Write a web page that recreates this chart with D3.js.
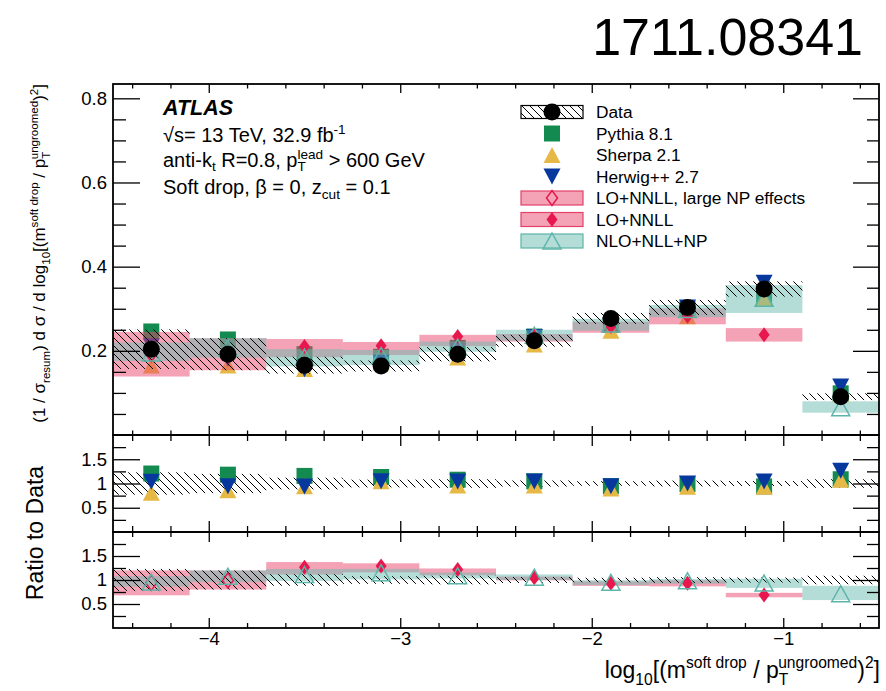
<!DOCTYPE html>
<html><head><meta charset="utf-8">
<script src="https://cdn.jsdelivr.net/npm/d3@7"></script>
<style>
body{margin:0;background:#fff}
text{font-family:"Liberation Sans",Arial,Helvetica,sans-serif;fill:#000}
</style>
</head><body><svg id="c" width="886" height="691"></svg>
<script>
// ---------------- DATA ----------------
const binEdges = [-4.5,-4.1,-3.7,-3.3,-2.9,-2.5,-2.1,-1.7,-1.3,-0.9,-0.5];
const dataVal  = [0.204,0.192,0.166,0.164,0.192,0.224,0.277,0.303,0.347,0.091];
const dataErr  = [0.047,0.038,0.020,0.013,0.017,0.014,0.013,0.018,0.018,0.008];
const pythia   = [0.246,0.227,0.192,0.186,0.207,0.234,0.262,0.300,0.326,0.099];
const sherpa   = [0.165,0.165,0.157,0.172,0.184,0.215,0.248,0.282,0.323,0.098];
const herwig   = [0.211,0.181,0.156,0.172,0.200,0.233,0.261,0.303,0.362,0.115];
// LO+NNLL, large NP effects (first two bins)
const loNpVal  = [0.192,0.190,null,null,null,null,null,null,null,null];
const loNpLow  = [0.139,0.154,null,null,null,null,null,null,null,null];
const loNpHigh = [0.245,0.230,null,null,null,null,null,null,null,null];
// LO+NNLL
const loVal    = [null,null,0.210,0.212,0.234,0.235,0.258,0.282,0.238,null];
const loLow    = [null,null,0.185,0.190,0.211,0.222,0.243,0.263,0.222,null];
const loHigh   = [null,null,0.228,0.221,0.238,0.240,0.269,0.301,0.254,null];
// NLO+NLL+NP
const nloVal   = [0.195,0.207,0.185,0.189,0.209,0.237,0.264,0.298,0.325,0.065];
const nloLow   = [0.176,0.184,0.163,0.166,0.198,0.224,0.248,0.280,0.290,0.053];
const nloHigh  = [0.220,0.230,0.204,0.202,0.222,0.250,0.276,0.309,0.356,0.080];

const xMajorTicks = [-4,-3,-2,-1];
const yMainMajorTicks = [0.2,0.4,0.6,0.8];
const yRatioMajorTicks = [0.5,1,1.5];
const legendLabels = ["Data","Pythia 8.1","Sherpa 2.1","Herwig++ 2.7","LO+NNLL, large NP effects","LO+NNLL","NLO+NLL+NP"];

// ---------------- STYLE / LAYOUT ----------------
const C = {green:"#138a4f", yellow:"#e6b947", blue:"#07389d", red:"#e8174e",
  pink:"#e9456c", teal:"#6bbbb1", tealLine:"#5db5a9", pinkLine:"#e3406a"};
const X0=113, X1=879;
const P = {main:[84,435], r1:[435,532], r2:[532,628]};
const svg = d3.select("#c");
const x = d3.scaleLinear().domain([-4.5,-0.5]).range([X0,X1]);
const yM = d3.scaleLinear().domain([0,0.834]).range([P.main[1],P.main[0]]);
const yR1 = d3.scaleLinear().domain([0,2]).range([P.r1[1],P.r1[0]]);
const yR2 = d3.scaleLinear().domain([0,2]).range([P.r2[1],P.r2[0]]);
const bins = d3.range(binEdges.length-1).map(i=>({i, x0:binEdges[i], x1:binEdges[i+1], c:(binEdges[i]+binEdges[i+1])/2}));

const defs = svg.append("defs");
defs.append("pattern").attr("id","hatch").attr("width",8).attr("height",8).attr("patternUnits","userSpaceOnUse")
  .append("path").attr("d","M-2,-2L10,10M-2,6L2,10M6,-2L10,2").attr("stroke","#000").attr("stroke-width",1);
Object.entries(P).forEach(([k,[t,b]])=>{
  defs.append("clipPath").attr("id","clip-"+k).append("rect").attr("x",X0).attr("y",t).attr("width",X1-X0).attr("height",b-t);
});

// marker paths
const pSq = s=>`M${-s/2},${-s/2}h${s}v${s}h${-s}Z`;
const pUp = (w,h)=>`M0,${-h/2}L${w/2},${h/2}L${-w/2},${h/2}Z`;
const pDn = (w,h)=>`M0,${h/2}L${w/2},${-h/2}L${-w/2},${-h/2}Z`;
const pDia = (w,h)=>`M0,${-h/2}L${w/2},0L0,${h/2}L${-w/2},0Z`;

function markers(g, vals, y, path, attrs, ratio){
  const d = bins.filter(b=>vals[b.i]!=null);
  const s = g.selectAll(null).data(d).enter().append("path")
    .attr("d",path)
    .attr("transform",b=>`translate(${x(b.c)},${y(ratio? vals[b.i]/dataVal[b.i] : vals[b.i])})`);
  Object.entries(attrs).forEach(([k,v])=>s.attr(k,v));
}
function bands(g, lo, hi, y, fill, ratio){
  const d = bins.filter(b=>lo[b.i]!=null);
  g.selectAll(null).data(d).enter().append("rect")
    .attr("x",b=>x(b.x0)).attr("width",b=>x(b.x1)-x(b.x0))
    .attr("y",b=>y(ratio? hi[b.i]/dataVal[b.i] : hi[b.i]))
    .attr("height",b=>y(ratio? lo[b.i]/dataVal[b.i] : lo[b.i]) - y(ratio? hi[b.i]/dataVal[b.i] : hi[b.i]))
    .attr("fill",fill).attr("fill-opacity",0.5);
}
function hatchBand(g, y, ratio){
  g.selectAll(null).data(bins).enter().append("rect")
    .attr("x",b=>x(b.x0)).attr("width",b=>x(b.x1)-x(b.x0))
    .attr("y",b=>ratio? y(1+dataErr[b.i]/dataVal[b.i]) : y(dataVal[b.i]+dataErr[b.i]))
    .attr("height",b=>ratio? y(1-dataErr[b.i]/dataVal[b.i])-y(1+dataErr[b.i]/dataVal[b.i]) : y(dataVal[b.i]-dataErr[b.i])-y(dataVal[b.i]+dataErr[b.i]))
    .attr("fill","url(#hatch)");
}
const mcMarkers = (g,y,ratio)=>{
  markers(g,pythia,y,pSq(16),{fill:C.green},ratio);
  markers(g,sherpa,y,pUp(17,16),{fill:C.yellow},ratio);
  markers(g,herwig,y,pDn(17,16),{fill:C.blue},ratio);
};
const modelBands = (g,y,ratio)=>{
  bands(g,loNpLow,loNpHigh,y,C.pink,ratio);
  bands(g,loLow,loHigh,y,C.pink,ratio);
  bands(g,nloLow,nloHigh,y,C.teal,ratio);
};
const modelMarkers = (g,y,ratio)=>{
  markers(g,loNpVal,y,pDia(11,15),{fill:"none",stroke:C.red,"stroke-width":1.5},ratio);
  markers(g,loVal,y,pDia(11,15),{fill:C.red},ratio);
  markers(g,nloVal,y,pUp(18,16),{fill:"none",stroke:C.tealLine,"stroke-width":1.5},ratio);
};

// ---------------- MAIN PANEL ----------------
const gM = svg.append("g").attr("clip-path","url(#clip-main)");
mcMarkers(gM,yM,false);
modelBands(gM,yM,false);
hatchBand(gM,yM,false);
modelMarkers(gM,yM,false);
gM.selectAll(null).data(bins).enter().append("circle")
  .attr("cx",b=>x(b.c)).attr("cy",b=>yM(dataVal[b.i])).attr("r",8.5).attr("fill","#000");

// ---------------- RATIO 1 ----------------
const g1 = svg.append("g").attr("clip-path","url(#clip-r1)");
hatchBand(g1,yR1,true);
mcMarkers(g1,yR1,true);

// ---------------- RATIO 2 ----------------
const g2 = svg.append("g").attr("clip-path","url(#clip-r2)");
modelBands(g2,yR2,true);
hatchBand(g2,yR2,true);
modelMarkers(g2,yR2,true);

// ---------------- AXES ----------------
const xMinorTicks = d3.range(-4.4,-0.5,0.2).map(v=>+v.toFixed(1)).filter(v=>!xMajorTicks.includes(v));
function minorOf(maj, step, lo, hi){
  return d3.range(lo, hi+1e-9, step).map(v=>+v.toFixed(3)).filter(v=>!maj.some(m=>Math.abs(m-v)<1e-6));
}
function frameAxes(key, y, yMaj, yMin, fmt, xMajLen, xMinLen, showX){
  const [t,b] = P[key];
  const g = svg.append("g").attr("class","ax");
  g.append("g").attr("transform",`translate(${X0},0)`).call(d3.axisLeft(y).tickValues(yMaj).tickSize(-27).tickPadding(6).tickFormat(fmt));
  g.append("g").attr("transform",`translate(${X0},0)`).call(d3.axisLeft(y).tickValues(yMin).tickSize(-13).tickFormat(""));
  g.append("g").attr("transform",`translate(${X1},0)`).call(d3.axisRight(y).tickValues(yMaj).tickSize(-26).tickFormat(""));
  g.append("g").attr("transform",`translate(${X1},0)`).call(d3.axisRight(y).tickValues(yMin).tickSize(-12).tickFormat(""));
  g.append("g").attr("transform",`translate(0,${t})`).call(d3.axisTop(x).tickValues(xMajorTicks).tickSize(-xMajLen).tickFormat(""));
  g.append("g").attr("transform",`translate(0,${t})`).call(d3.axisTop(x).tickValues(xMinorTicks).tickSize(-xMinLen).tickFormat(""));
  g.append("g").attr("transform",`translate(0,${b})`).call(d3.axisBottom(x).tickValues(xMajorTicks).tickSize(-xMajLen).tickPadding(4).tickFormat(showX? d3.format("") : ""));
  g.append("g").attr("transform",`translate(0,${b})`).call(d3.axisBottom(x).tickValues(xMinorTicks).tickSize(-xMinLen).tickFormat(""));
  g.selectAll(".domain").remove();
  g.selectAll(".tick line").attr("stroke","#000").attr("stroke-width",1.3);
  g.selectAll(".tick text").attr("font-size",18.5).attr("font-family","'Liberation Sans',Arial,sans-serif").attr("fill","#000");
  svg.append("rect").attr("x",X0).attr("y",t).attr("width",X1-X0).attr("height",b-t)
    .attr("fill","none").attr("stroke","#000").attr("stroke-width",1.8);
}
frameAxes("main", yM, yMainMajorTicks, minorOf(yMainMajorTicks,0.05,0.05,0.8), d3.format(".1f"), 9, 4.5, false);
frameAxes("r1", yR1, yRatioMajorTicks, minorOf(yRatioMajorTicks,0.25,0.25,1.75), d=>String(d), 11, 6, false);
frameAxes("r2", yR2, yRatioMajorTicks, minorOf(yRatioMajorTicks,0.25,0.25,1.75), d=>String(d), 10, 5, true);

// ---------------- RICH TEXT ----------------
function rich(sel, parts, size, subOff){
  let cur = 0, lastW = 0;
  const so = subOff==null ? 0.3 : subOff;
  parts.forEach(([t,type,stack])=>{
    const fs = type===0 ? size : size*0.68;
    const off = type===1 ? -size*0.42 : type===-1 ? size*so : 0;
    const ts = sel.append("tspan").attr("font-size",fs).attr("dy",off-cur).text(t);
    if(stack) ts.attr("dx",-lastW);
    lastW = ts.node().getComputedTextLength();
    cur = off;
  });
  return sel;
}

// Title number
svg.append("text").attr("x",863).attr("y",55).attr("text-anchor","end").attr("font-size",52).text("1711.08341");

// ATLAS block
svg.append("text").attr("x",163).attr("y",115).attr("font-size",21.5).attr("font-weight","bold").attr("font-style","italic").text("ATLAS");
rich(svg.append("text").attr("x",163).attr("y",142), [["√s= 13 TeV, 32.9 fb",0],["-1",1]], 20);
rich(svg.append("text").attr("x",163).attr("y",167), [["anti-k",0],["t",-1],[" R=0.8, p",0],["T",-1],["lead",1,true],[" > 600 GeV",0]], 20, 0.22);
rich(svg.append("text").attr("x",163).attr("y",194), [["Soft drop, β = 0, z",0],["cut",-1],[" = 0.1",0]], 20, 0.25);

// Legend
const lg = svg.append("g");
const rowY = i=>112+i*21.5;
const bx0=521, bw=62, bh=13, mx=552;
legendLabels.forEach((lab,i)=>{
  lg.append("text").attr("x",596).attr("y",rowY(i)+6).attr("font-size",17.3).text(lab);
});
lg.append("rect").attr("x",bx0).attr("y",rowY(0)-bh/2).attr("width",bw).attr("height",bh).attr("fill","url(#hatch)").attr("stroke","#000").attr("stroke-width",1.2);
lg.append("circle").attr("cx",mx).attr("cy",rowY(0)).attr("r",8.5).attr("fill","#000");
lg.append("path").attr("d",pSq(16)).attr("transform",`translate(${mx},${rowY(1)})`).attr("fill",C.green);
lg.append("path").attr("d",pUp(17,16)).attr("transform",`translate(${mx},${rowY(2)})`).attr("fill",C.yellow);
lg.append("path").attr("d",pDn(17,16)).attr("transform",`translate(${mx},${rowY(3)})`).attr("fill",C.blue);
[[4,C.pink,C.pinkLine],[5,C.pink,C.pinkLine],[6,C.teal,C.tealLine]].forEach(([i,f,s])=>{
  lg.append("rect").attr("x",bx0).attr("y",rowY(i)-7).attr("width",bw).attr("height",14)
    .attr("fill",f).attr("fill-opacity",0.5).attr("stroke",s).attr("stroke-width",1.2);
});
lg.append("path").attr("d",pDia(11,15)).attr("transform",`translate(${mx},${rowY(4)})`).attr("fill","none").attr("stroke",C.red).attr("stroke-width",1.5);
lg.append("path").attr("d",pDia(11,15)).attr("transform",`translate(${mx},${rowY(5)})`).attr("fill",C.red);
lg.append("path").attr("d",pUp(18,16)).attr("transform",`translate(${mx},${rowY(6)})`).attr("fill","none").attr("stroke",C.tealLine).attr("stroke-width",1.5);

// Axis titles
rich(svg.append("text").attr("x",880).attr("y",678).attr("text-anchor","end"),
  [["log",0],["10",-1],["[(m",0],["soft drop",1],[" / p",0],["T",-1],["ungroomed",1,true],[")",0],["2",1],["]",0]], 23);
rich(svg.append("g").attr("transform","translate(45,84) rotate(-90)").append("text").attr("text-anchor","end"),
  [["(1 / σ",0],["resum",-1],[") d σ / d log",0],["10",-1],["[(m",0],["soft drop",1],[" / p",0],["T",-1],["ungroomed",1,true],[")",0],["2",1],["]",0]], 17);
svg.append("g").attr("transform","translate(43,533) rotate(-90)").append("text")
  .attr("text-anchor","middle").attr("font-size",23).text("Ratio to Data");
</script>
</body></html>
